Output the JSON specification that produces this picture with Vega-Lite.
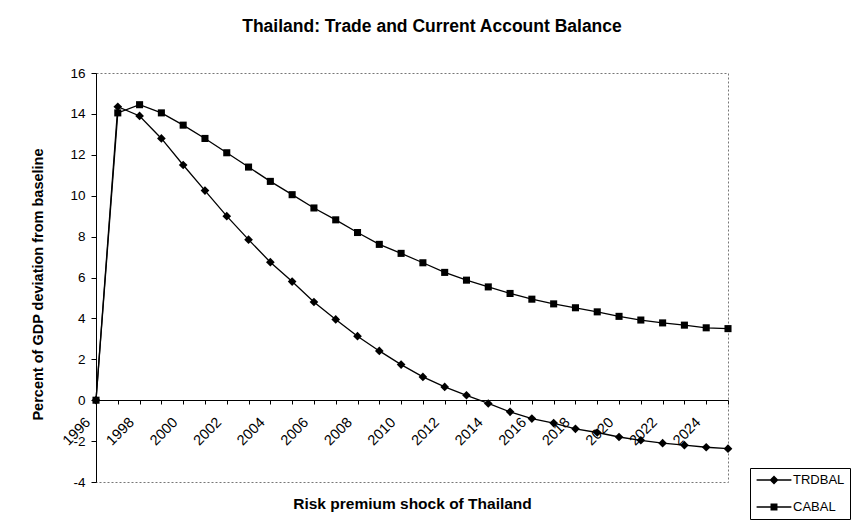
{
  "$schema": "https://vega.github.io/schema/vega-lite/v6.json",
  "width": 632,
  "height": 409,
  "autosize": "none",
  "padding": {"left": 96, "top": 73, "right": 131, "bottom": 49},
  "background": "white",
  "title": {
    "text": "Thailand: Trade and Current Account Balance",
    "font": "Liberation Sans",
    "fontSize": 17.5,
    "fontWeight": "bold",
    "color": "black",
    "anchor": "middle",
    "dx": 20,
    "offset": 31
  },
  "config": {
    "view": {"stroke": "#777", "strokeDash": [2, 2], "strokeWidth": 1},
    "font": "Liberation Sans"
  },
  "data": {
    "values": [
      {"year": 1996, "series": "TRDBAL", "value": 0},
      {"year": 1997, "series": "TRDBAL", "value": 14.35},
      {"year": 1998, "series": "TRDBAL", "value": 13.9},
      {"year": 1999, "series": "TRDBAL", "value": 12.8},
      {"year": 2000, "series": "TRDBAL", "value": 11.5},
      {"year": 2001, "series": "TRDBAL", "value": 10.25},
      {"year": 2002, "series": "TRDBAL", "value": 9.0},
      {"year": 2003, "series": "TRDBAL", "value": 7.85},
      {"year": 2004, "series": "TRDBAL", "value": 6.75},
      {"year": 2005, "series": "TRDBAL", "value": 5.8},
      {"year": 2006, "series": "TRDBAL", "value": 4.8},
      {"year": 2007, "series": "TRDBAL", "value": 3.95},
      {"year": 2008, "series": "TRDBAL", "value": 3.13},
      {"year": 2009, "series": "TRDBAL", "value": 2.41},
      {"year": 2010, "series": "TRDBAL", "value": 1.74},
      {"year": 2011, "series": "TRDBAL", "value": 1.14},
      {"year": 2012, "series": "TRDBAL", "value": 0.65},
      {"year": 2013, "series": "TRDBAL", "value": 0.24},
      {"year": 2014, "series": "TRDBAL", "value": -0.16},
      {"year": 2015, "series": "TRDBAL", "value": -0.57},
      {"year": 2016, "series": "TRDBAL", "value": -0.9},
      {"year": 2017, "series": "TRDBAL", "value": -1.12},
      {"year": 2018, "series": "TRDBAL", "value": -1.4},
      {"year": 2019, "series": "TRDBAL", "value": -1.58},
      {"year": 2020, "series": "TRDBAL", "value": -1.8},
      {"year": 2021, "series": "TRDBAL", "value": -1.96},
      {"year": 2022, "series": "TRDBAL", "value": -2.1},
      {"year": 2023, "series": "TRDBAL", "value": -2.2},
      {"year": 2024, "series": "TRDBAL", "value": -2.3},
      {"year": 2025, "series": "TRDBAL", "value": -2.37},
      {"year": 1996, "series": "CABAL", "value": 0},
      {"year": 1997, "series": "CABAL", "value": 14.05},
      {"year": 1998, "series": "CABAL", "value": 14.45},
      {"year": 1999, "series": "CABAL", "value": 14.05},
      {"year": 2000, "series": "CABAL", "value": 13.45},
      {"year": 2001, "series": "CABAL", "value": 12.8},
      {"year": 2002, "series": "CABAL", "value": 12.1},
      {"year": 2003, "series": "CABAL", "value": 11.4},
      {"year": 2004, "series": "CABAL", "value": 10.7},
      {"year": 2005, "series": "CABAL", "value": 10.05},
      {"year": 2006, "series": "CABAL", "value": 9.4},
      {"year": 2007, "series": "CABAL", "value": 8.82},
      {"year": 2008, "series": "CABAL", "value": 8.2},
      {"year": 2009, "series": "CABAL", "value": 7.62},
      {"year": 2010, "series": "CABAL", "value": 7.18},
      {"year": 2011, "series": "CABAL", "value": 6.72},
      {"year": 2012, "series": "CABAL", "value": 6.25},
      {"year": 2013, "series": "CABAL", "value": 5.87},
      {"year": 2014, "series": "CABAL", "value": 5.54},
      {"year": 2015, "series": "CABAL", "value": 5.22},
      {"year": 2016, "series": "CABAL", "value": 4.94},
      {"year": 2017, "series": "CABAL", "value": 4.71},
      {"year": 2018, "series": "CABAL", "value": 4.52},
      {"year": 2019, "series": "CABAL", "value": 4.32},
      {"year": 2020, "series": "CABAL", "value": 4.1},
      {"year": 2021, "series": "CABAL", "value": 3.92},
      {"year": 2022, "series": "CABAL", "value": 3.78},
      {"year": 2023, "series": "CABAL", "value": 3.67},
      {"year": 2024, "series": "CABAL", "value": 3.54},
      {"year": 2025, "series": "CABAL", "value": 3.5}
    ]
  },
  "encoding": {
    "x": {
      "field": "year",
      "type": "quantitative",
      "scale": {"domain": [1996, 2025], "nice": false, "zero": false},
      "axis": {
        "title": "Risk premium shock of Thailand",
        "titleFont": "Liberation Sans",
        "titleFontSize": 15.5,
        "titleFontWeight": "bold",
        "titleColor": "black",
        "titlePadding": 49,
        "values": [1996,1997,1998,1999,2000,2001,2002,2003,2004,2005,2006,2007,2008,2009,2010,2011,2012,2013,2014,2015,2016,2017,2018,2019,2020,2021,2022,2023,2024,2025],
        "format": "d",
        "labelExpr": "datum.value % 2 == 0 && datum.value < 2025 ? datum.label : ''",
        "labelOverlap": false,
        "labelAngle": -45,
        "labelAlign": "right",
        "labelBaseline": "middle",
        "labelPadding": 16,
        "labelOffset": -8,
        "labelFont": "Liberation Sans",
        "labelFontSize": 14.5,
        "labelColor": "black",
        "labelFlush": false,
        "offset": -82,
        "tickSize": 4,
        "tickColor": "black",
        "domainColor": "black",
        "domainWidth": 1,
        "grid": false
      }
    },
    "y": {
      "field": "value",
      "type": "quantitative",
      "scale": {"domain": [-4, 16], "nice": false},
      "axis": {
        "title": "Percent of GDP deviation from baseline",
        "titleFont": "Liberation Sans",
        "titleFontSize": 14.5,
        "titleFontWeight": "bold",
        "titleColor": "black",
        "titlePadding": 24,
        "titleY": 211,
        "values": [-4, -2, 0, 2, 4, 6, 8, 10, 12, 14, 16],
        "labelExpr": "datum.value < 0 ? '-' + abs(datum.value) : datum.label",
        "labelFont": "Liberation Sans",
        "labelFontSize": 13.5,
        "labelColor": "black",
        "labelPadding": 6,
        "tickSize": 5,
        "tickColor": "black",
        "domainColor": "black",
        "grid": false
      }
    }
  },
  "layer": [
    {
      "mark": {"type": "line", "color": "black", "strokeWidth": 1.3},
      "encoding": {"detail": {"field": "series"}}
    },
    {
      "transform": [{"filter": "datum.series === 'TRDBAL'"}],
      "mark": {"type": "point", "filled": true, "color": "black", "opacity": 1, "size": 75, "shape": "diamond"},
      "encoding": {}
    },
    {
      "transform": [{"filter": "datum.series === 'CABAL'"}],
      "mark": {"type": "point", "filled": true, "color": "black", "opacity": 1, "size": 50, "shape": "square"},
      "encoding": {}
    },
    {
      "transform": [{"filter": "datum.year < 0"}],
      "mark": {"type": "point", "filled": true, "color": "black", "opacity": 1},
      "encoding": {
        "shape": {
          "field": "series",
          "type": "nominal",
          "scale": {
            "domain": ["TRDBAL", "CABAL"],
            "range": [
              "M-2.9,-0.11L2.9,-0.11L2.9,0.11L-2.9,0.11ZM0,-0.75L0.75,0L0,0.75L-0.75,0Z",
              "M-2.9,-0.11L2.9,-0.11L2.9,0.11L-2.9,0.11ZM-0.58,-0.58L0.58,-0.58L0.58,0.58L-0.58,0.58Z"
            ]
          },
          "legend": {
            "title": null,
            "orient": "none",
            "legendX": 654,
            "legendY": 395,
            "strokeColor": "black",
            "fillColor": "white",
            "padding": 5,
            "symbolSize": 144,
            "symbolOffset": 12,
            "labelOffset": 12,
            "rowPadding": 12,
            "labelFont": "Liberation Sans",
            "labelFontSize": 13,
            "labelColor": "black",
            "symbolFillColor": "black",
            "symbolOpacity": 1
          }
        }
      }
    }
  ]
}
